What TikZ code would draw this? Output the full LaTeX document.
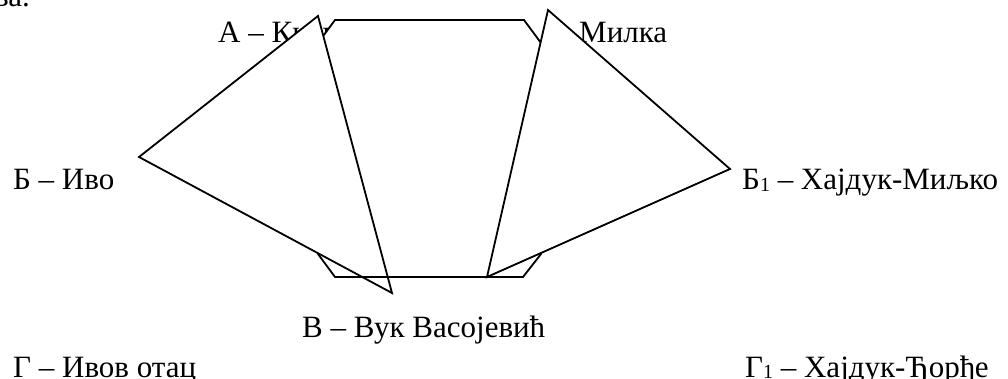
\documentclass[tikz,border=0pt]{standalone}
\usepackage{fontspec}
\setmainfont{Liberation Serif}
\newcommand{\subone}{\raisebox{-1.5pt}{\fontsize{20}{24}\selectfont 1}}
\begin{document}
\begin{tikzpicture}[x=1pt,y=-1pt,
  lbl/.style={anchor=base west,inner sep=0pt,font=\fontsize{31}{37}\selectfont},
  shapeline/.style={draw=black,line width=1.8pt,fill=white,line join=miter}]
\useasboundingbox (0,0) rectangle (1008,379);
\clip (0,0) rectangle (1008,379);
% texts
\node[lbl] (top) at (-6,7) {ва.};
\node[lbl] (A) at (218,43) {\makebox[449pt][s]{А – Кнегиња\hfill Милка}};
\node[lbl] (B) at (13,190) {Б – Иво};
\node[lbl] (B1) at (742,190) {Б\subone{} – Хајдук-Миљко};
\node[lbl] (V) at (302,337) {В – Вук Васојевић};
\node[lbl] (G) at (13,377) {Г – Ивов отац};
\node[lbl] (G1) at (745,377) {Г\subone{} – Хајдук-Ђорђе};
% octagon
\coordinate (o1) at (335,20);
\coordinate (o2) at (524,20);
\coordinate (o3) at (541,43);
\coordinate (o4) at (541,254);
\coordinate (o5) at (523,277);
\coordinate (o6) at (335,277);
\coordinate (o7) at (318,254);
\coordinate (o8) at (318,43);
\path[shapeline] (o1) -- (o2) -- (o3) -- (o4) -- (o5) -- (o6) -- (o7) -- (o8) -- cycle;
% left triangle
\coordinate (l1) at (318,16);
\coordinate (l2) at (139,157);
\coordinate (l3) at (392,293);
\path[shapeline] (l1) -- (l2) -- (l3) -- cycle;
% right triangle
\coordinate (r1) at (548,10);
\coordinate (r2) at (730,169);
\coordinate (r3) at (487,277);
\path[shapeline] (r1) -- (r2) -- (r3) -- cycle;
% bottom edge of octagon drawn on top
\draw[line width=1.8pt] (o6) -- (o5);
\end{tikzpicture}
\end{document}
